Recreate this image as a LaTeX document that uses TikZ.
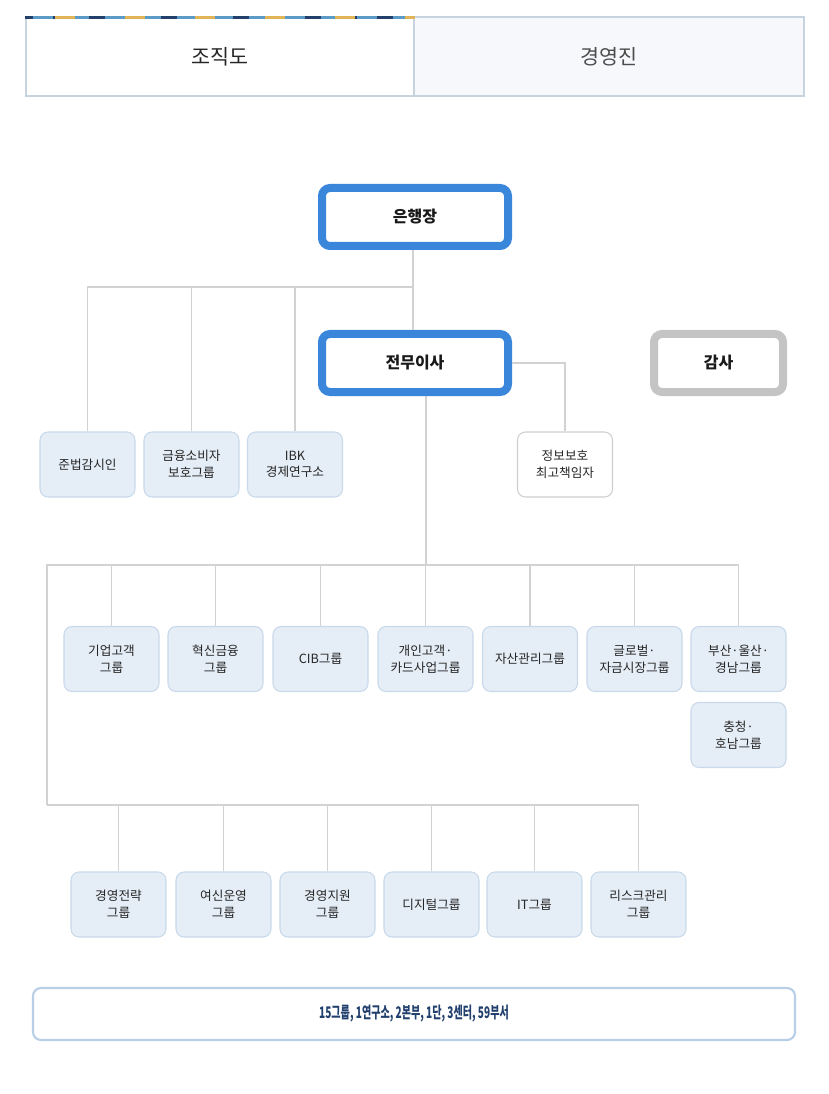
\documentclass[tikz,border=0pt]{standalone}
\usepackage{fontspec}
\setmainfont{Noto Sans CJK KR}
\usetikzlibrary{positioning,calc}
\definecolor{ibkblue}{HTML}{3A86DB}
\definecolor{auditgray}{HTML}{C4C4C4}
\definecolor{unitfill}{HTML}{E5EDF6}
\definecolor{unitline}{HTML}{C9D9EA}
\definecolor{cisoline}{HTML}{CFCFCF}
\definecolor{connline}{HTML}{D2D2D2}
\definecolor{tabline}{HTML}{C7D3DF}
\definecolor{tabfill}{HTML}{F6F8FB}
\definecolor{sumline}{HTML}{B9CFE7}
\definecolor{sumtext}{HTML}{22406E}
\definecolor{stripnavy}{HTML}{23406A}
\definecolor{stripgold}{HTML}{E2B458}
\definecolor{stripblue}{HTML}{5B9BC8}
\tikzset{
  tab/.style={rectangle, draw=tabline, line width=1.1pt, fill=white,
    minimum width=291pt, minimum height=59.25pt, inner sep=0pt,
    font=\fontsize{15.5}{18}\selectfont, text=black!85},
  tabidle/.style={tab, fill=tabfill, minimum width=292.5pt, text=black!70},
  topbox/.style={rectangle, rounded corners=6pt, draw=ibkblue, line width=6pt,
    fill=white, minimum width=139.5pt, minimum height=43.5pt, inner sep=0pt,
    font=\bfseries\fontsize{12}{14}\selectfont, text=black!90},
  auditbox/.style={topbox, draw=auditgray, minimum width=96.75pt},
  unit/.style={rectangle, rounded corners=6pt, draw=unitline, line width=0.8pt,
    fill=unitfill, minimum width=71.25pt, minimum height=48.75pt,
    text width=68pt, align=center, inner sep=0pt,
    font=\fontsize{9.5}{12.5}\selectfont, text=black!85},
  unitwhite/.style={unit, fill=white, draw=cisoline},
  sumbox/.style={rectangle, rounded corners=6pt, draw=sumline, line width=1.6pt,
    fill=white, minimum width=571.5pt, minimum height=39pt, inner sep=0pt,
    font=\bfseries\fontsize{12}{14}\selectfont, text=sumtext},
  conn/.style={draw=connline, line width=0.9pt},
}
\begin{document}
\begin{tikzpicture}[x=0.75pt, y=-0.75pt]
\useasboundingbox (0,0) rectangle (828,1094);

% ================= TABS =================
\node[tab] (tabL) at (220,56.5) {조직도};
\node[tabidle] (tabR) at (609,56.5) {경영진};
\draw[stripnavy, line width=2pt] ([yshift=-1pt]tabL.north west) -- ([yshift=-1pt]tabL.north east);
\draw[stripblue, line width=2pt, dash pattern=on 15pt off 12pt] ([yshift=-1pt,xshift=6pt]tabL.north west) -- ([yshift=-1pt]tabL.north east);
\draw[stripgold, line width=2pt, dash pattern=on 15pt off 37.5pt] ([yshift=-1pt,xshift=22pt]tabL.north west) -- ([yshift=-1pt]tabL.north east);

% ================= TOP =================
\node[topbox] (ceo) at (415,217) {은행장};
\node[topbox] (evp) at (415,363) {전무이사};
\node[auditbox] (audit) at (718.5,363) {감사};

% ================= STAFF UNITS =================
\node[unit] (comp) at (87.5,464.5) {준법감시인};
\node[unit] (cons) at (191.5,464.5) {금융소비자\\보호그룹};
\node[unit] (inst) at (295,464.5) {IBK\\경제연구소};
\node[unitwhite] (ciso) at (565,464.5) {정보보호\\최고책임자};

% ================= BUSINESS GROUPS =================
\node[unit] (g1) at (111.5,659) {기업고객\\그룹};
\node[unit] (g2) at (215.5,659) {혁신금융\\그룹};
\node[unit] (g3) at (320.5,659) {CIB그룹};
\node[unit] (g4) at (425.5,659) {개인고객·\\카드사업그룹};
\node[unit] (g5) at (530,659) {자산관리그룹};
\node[unit] (g6) at (634.5,659) {글로벌·\\자금시장그룹};
\node[unit] (g7) at (738.5,659) {부산·울산·\\경남그룹};
\node[unit] (g8) at (738.5,735) {충청·\\호남그룹};

% ================= SUPPORT GROUPS =================
\node[unit] (s1) at (118.5,904.5) {경영전략\\그룹};
\node[unit] (s2) at (223.5,904.5) {여신운영\\그룹};
\node[unit] (s3) at (327.5,904.5) {경영지원\\그룹};
\node[unit] (s4) at (431.5,904.5) {디지털그룹};
\node[unit] (s5) at (534.5,904.5) {IT그룹};
\node[unit] (s6) at (638.5,904.5) {리스크관리\\그룹};

% ================= SUMMARY =================
\node[sumbox] (sum) at (414,1014) {\scalebox{0.63}[1]{15그룹, 1연구소, 2본부, 1단, 3센터, 59부서}};

% ================= CONNECTORS =================
\coordinate (b1) at (413,287);
\coordinate (b2) at (426,565);
\coordinate (b3) at (47,805);

\draw[conn] (ceo.south -| b1) -- (evp.north -| b1);
\foreach \n in {comp,cons,inst}
  \draw[conn] (b1) -| (\n.north);
\draw[conn] (evp.east) -| (ciso.north);

\draw[conn] (evp.south -| b2) -- (b2);
\foreach \n in {g1,g2,g3,g4,g5,g6,g7}
  \draw[conn] (b2) -| (\n.north);
\draw[conn] (b2) -| (b3);
\foreach \n in {s1,s2,s3,s4,s5,s6}
  \draw[conn] (b3) -| (\n.north);

\end{tikzpicture}
\end{document}
